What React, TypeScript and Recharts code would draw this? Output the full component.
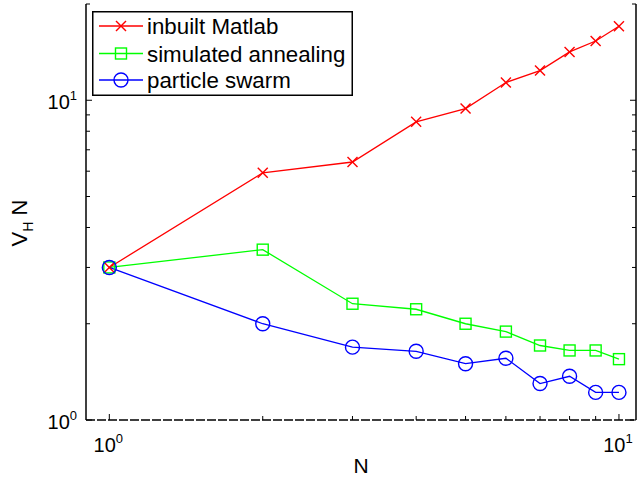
import { Legend, Line, LineChart, XAxis, YAxis } from "recharts";

const N_VALUES = [1, 2, 3, 4, 5, 6, 7, 8, 9, 10];
const INBUILT_MATLAB = [3.0, 5.93, 6.41, 8.56, 9.42, 11.36, 12.38, 14.16, 15.32, 17.03];
const SIMULATED_ANNEALING = [3.0, 3.41, 2.31, 2.22, 2.0, 1.89, 1.71, 1.65, 1.65, 1.55];
const PARTICLE_SWARM = [3.0, 2.0, 1.69, 1.64, 1.5, 1.56, 1.3, 1.37, 1.22, 1.22];

const X_TICKS = [1, 2, 3, 4, 5, 6, 7, 8, 9, 10];
const Y_TICKS = [1, 2, 3, 4, 5, 6, 7, 8, 9, 10, 20];
const MAJOR_TICKS = [1, 10];

const SERIES = [
	{ key: "inbuilt", name: "inbuilt Matlab", color: "#ff0000", marker: "cross" },
	{ key: "annealing", name: "simulated annealing", color: "#00ff00", marker: "square" },
	{ key: "swarm", name: "particle swarm", color: "#0000ff", marker: "circle" },
];

const data = N_VALUES.map((n, i) => ({
	n,
	inbuilt: INBUILT_MATLAB[i],
	annealing: SIMULATED_ANNEALING[i],
	swarm: PARTICLE_SWARM[i],
}));

const FONT = '"Liberation Sans", Arial, Helvetica, sans-serif';
const MAJOR_LEN = 6;
const MINOR_LEN = 4;

const isMajor = (v: number) => MAJOR_TICKS.includes(v);
const exponent = (v: number) => Math.round(Math.log10(v));

function Marker({ type, cx, cy, color }: { type: string; cx: number; cy: number; color: string }) {
	if (type === "cross") {
		const h = 5;
		return (
			<g stroke={color} strokeWidth={1.4}>
				<line x1={cx - h} y1={cy - h} x2={cx + h} y2={cy + h} />
				<line x1={cx - h} y1={cy + h} x2={cx + h} y2={cy - h} />
			</g>
		);
	}
	if (type === "square") {
		return <rect x={cx - 5.5} y={cy - 5.5} width={11} height={11} fill="none" stroke={color} strokeWidth={1.4} />;
	}
	return <circle cx={cx} cy={cy} r={7} fill="none" stroke={color} strokeWidth={1.4} />;
}

const makeDot = (type: string, color: string) => (props: any) => {
	const { cx, cy, index } = props;
	if (cx == null || cy == null) return <g key={index} />;
	return <Marker key={index} type={type} cx={cx} cy={cy} color={color} />;
};

function PowerLabel({ x, y, exp, anchor }: { x: number; y: number; exp: number; anchor: "middle" | "end" }) {
	return (
		<text x={x} y={y} textAnchor={anchor} fontFamily={FONT} fontSize={20} fill="#000">
			10
			<tspan dy={-9} fontSize={13}>
				{exp}
			</tspan>
		</text>
	);
}

const BottomTick = (props: any) => {
	const { x, y, payload } = props;
	const v = payload.value;
	const len = isMajor(v) ? MAJOR_LEN : MINOR_LEN;
	return (
		<g>
			<line x1={x} x2={x} y1={y} y2={y - len} stroke="#000" />
			{isMajor(v) && <PowerLabel x={x - 1} y={y + 32} exp={exponent(v)} anchor="middle" />}
		</g>
	);
};

const TopTick = (props: any) => {
	const { x, y, payload } = props;
	const len = isMajor(payload.value) ? MAJOR_LEN : MINOR_LEN;
	return <line x1={x} x2={x} y1={y} y2={y + len} stroke="#000" />;
};

const LeftTick = (props: any) => {
	const { x, y, payload } = props;
	const v = payload.value;
	const len = isMajor(v) ? MAJOR_LEN : MINOR_LEN;
	return (
		<g>
			<line x1={x} x2={x + len} y1={y} y2={y} stroke="#000" />
			{isMajor(v) && <PowerLabel x={x - 9} y={y + 9} exp={exponent(v)} anchor="end" />}
		</g>
	);
};

const RightTick = (props: any) => {
	const { x, y, payload } = props;
	const len = isMajor(payload.value) ? MAJOR_LEN : MINOR_LEN;
	return <line x1={x} x2={x - len} y1={y} y2={y} stroke="#000" />;
};

const XLabel = (props: any) => {
	const { x, y, width, height } = props.viewBox;
	return (
		<text x={x + width / 2} y={y + height - 5} textAnchor="middle" fontFamily={FONT} fontSize={21} fill="#000">
			N
		</text>
	);
};

const YLabel = (props: any) => {
	const { y, height } = props.viewBox;
	const cx = 27;
	const cy = y + height / 2 + 11;
	return (
		<text
			x={cx}
			y={cy}
			transform={`rotate(-90, ${cx}, ${cy})`}
			textAnchor="middle"
			fontFamily={FONT}
			fontSize={22}
			fill="#000"
		>
			V
			<tspan dy={6} fontSize={14}>
				H
			</tspan>
			<tspan dy={-6}> N</tspan>
		</text>
	);
};

const LegendBox = () => {
	const rows = [15, 42.5, 69];
	return (
		<svg width={261} height={85} style={{ display: "block" }}>
			<rect x={0.75} y={0.75} width={259.5} height={83.5} fill="#fff" stroke="#000" strokeWidth={1.5} />
			{SERIES.map((s, i) => (
				<g key={s.key}>
					<line x1={7} x2={51} y1={rows[i]} y2={rows[i]} stroke={s.color} strokeWidth={1.3} />
					<Marker type={s.marker} cx={29} cy={rows[i]} color={s.color} />
					<text x={55} y={rows[i] + 8} fontFamily={FONT} fontSize={22.3} fill="#000">
						{s.name}
					</text>
				</g>
			))}
		</svg>
	);
};

export default function App() {
	return (
		<div style={{ position: "absolute", left: 0, top: 0, width: 637, height: 478, background: "#fff" }}>
			<LineChart width={637} height={478} data={data} margin={{ top: 4, right: 0, bottom: 0, left: 0 }}>
				<XAxis
					xAxisId="bottom"
					dataKey="n"
					type="number"
					scale="log"
					domain={[0.9, 10.8]}
					allowDataOverflow
					ticks={X_TICKS}
					interval={0}
					height={58}
					tickSize={0}
					tickMargin={0}
					tickLine={false}
					tick={BottomTick}
					axisLine={{ stroke: "#000", strokeWidth: 1.5, strokeDasharray: "9 2" }}
					label={<XLabel />}
				/>
				<XAxis
					xAxisId="top"
					dataKey="n"
					orientation="top"
					type="number"
					scale="log"
					domain={[0.9, 10.8]}
					allowDataOverflow
					ticks={X_TICKS}
					interval={0}
					height={0}
					tickSize={0}
					tickMargin={0}
					tickLine={false}
					tick={TopTick}
					axisLine={{ stroke: "#000", strokeWidth: 1.5 }}
				/>
				<YAxis
					yAxisId="left"
					type="number"
					scale="log"
					domain={[1, 20]}
					allowDataOverflow
					ticks={Y_TICKS}
					interval={0}
					width={86}
					tickSize={0}
					tickMargin={0}
					tickLine={false}
					tick={LeftTick}
					axisLine={{ stroke: "#000", strokeWidth: 1.5 }}
					label={<YLabel />}
				/>
				<YAxis
					yAxisId="right"
					orientation="right"
					type="number"
					scale="log"
					domain={[1, 20]}
					allowDataOverflow
					ticks={Y_TICKS}
					interval={0}
					width={1}
					tickSize={0}
					tickMargin={0}
					tickLine={false}
					tick={RightTick}
					axisLine={{ stroke: "#000", strokeWidth: 1.5 }}
				/>
				<Legend
					layout="vertical"
					align="center"
					verticalAlign="middle"
					content={<LegendBox />}
					wrapperStyle={{ left: 92, top: 11, width: 261, height: 85 }}
				/>
				{SERIES.map((s) => (
					<Line
						key={s.key}
						xAxisId="bottom"
						yAxisId="left"
						dataKey={s.key}
						name={s.name}
						stroke={s.color}
						strokeWidth={1.3}
						dot={makeDot(s.marker, s.color)}
						activeDot={false}
						isAnimationActive={false}
					/>
				))}
			</LineChart>
		</div>
	);
}
